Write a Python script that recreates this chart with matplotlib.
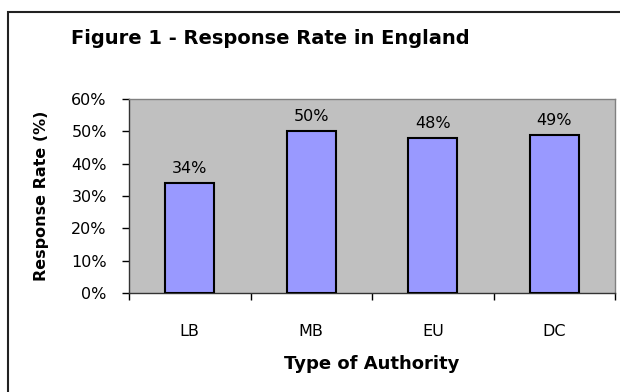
import matplotlib
matplotlib.use("Agg")
import matplotlib.pyplot as plt
from matplotlib.patches import Rectangle
from matplotlib.ticker import MultipleLocator, FuncFormatter

categories = ["LB", "MB", "EU", "DC"]
rates = [34, 50, 48, 49]

plt.rcParams["font.family"] = ["DejaVu Sans"]

W, H = 620, 392
fig = plt.figure(figsize=(W / 100, H / 100), dpi=100)
fig.patch.set_facecolor("white")

# chart frame
fig.patches.append(Rectangle((8 / W, -0.1), 1.2, 1 - 12 / H + 0.1,
                             transform=fig.transFigure, fill=False,
                             edgecolor="#222222", linewidth=1.5))

ax = fig.add_axes([129 / W, 1 - 293 / H, 486 / W, 194 / H])
ax.set_facecolor("#C0C0C0")
x = list(range(len(categories)))
ax.bar(x, rates, width=0.4, color="#9999FF", edgecolor="black", linewidth=1.5, zorder=3)
for xi, v in zip(x, rates):
    ax.text(xi, v + 3.1, f"{v}%", ha="center", va="baseline", fontsize=11.5)

ax.set_xlim(-0.5, 3.5)
ax.set_ylim(0, 60)
ax.yaxis.set_major_locator(MultipleLocator(10))
ax.yaxis.set_major_formatter(FuncFormatter(lambda v, p: f"{int(v)}%"))
ax.set_xticks([i - 0.5 for i in range(len(categories) + 1)])
ax.set_xticklabels([])
ax.set_xticks(x, minor=True)
ax.set_xticklabels(categories, minor=True)
ax.tick_params(axis="x", which="major", length=5, width=1, direction="out")
ax.tick_params(axis="x", which="minor", length=0, pad=22, labelsize=11.5)
ax.tick_params(axis="y", length=5, width=1, direction="out", pad=11, labelsize=11.5)

for side in ("top", "right"):
    ax.spines[side].set_color("#808080")
    ax.spines[side].set_linewidth(1)
for side in ("left", "bottom"):
    ax.spines[side].set_color("#333333")
    ax.spines[side].set_linewidth(1)

ax.set_ylabel("Response Rate (%)", fontsize=11.5, fontweight="bold", labelpad=16)
ax.set_xlabel("Type of Authority", fontsize=13, fontweight="bold", labelpad=12)

fig.text(270 / W, 1 - 39 / H, "Figure 1 - Response Rate in England",
         ha="center", va="center", fontsize=14, fontweight="bold")

fig.savefig("out.png", dpi=100)
